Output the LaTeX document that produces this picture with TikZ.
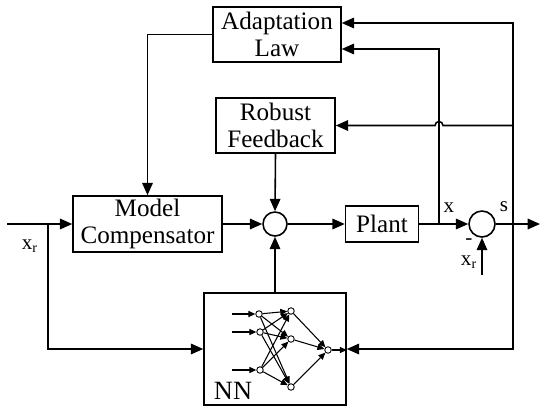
\documentclass[tikz,border=0pt]{standalone}
\usepackage{fontspec}
\setmainfont{Liberation Serif}
\usetikzlibrary{arrows.meta,calc}
\begin{document}
\begin{tikzpicture}[x=0.02cm,y=-0.02cm,
  blk/.style={draw,line width=0.9pt,align=center,inner sep=0pt,font=\fontsize{14.3}{15.5}\selectfont},
  sumc/.style={draw,circle,line width=0.9pt,inner sep=0pt},
  arr/.style={line width=0.9pt,-{Triangle[length=7pt,width=6pt]}},
  nnode/.style={draw,circle,line width=0.5pt,inner sep=0pt,minimum size=0.13cm,fill=white},
  narr/.style={line width=0.6pt,-{Triangle[length=4pt,width=3.5pt]}},
  lab/.style={font=\fontsize{12}{13}\selectfont,inner sep=0pt}]
\useasboundingbox (0,0) rectangle (550,416);
% blocks
\node[blk,minimum width=2.56cm,minimum height=1.1cm] (AL) at (277,34.5) {Adaptation\\Law};
\node[blk,minimum width=2.38cm,minimum height=1.1cm] (RF) at (275.5,125.5) {Robust\\Feedback};
\node[blk,minimum width=2.98cm,minimum height=1.12cm] (MC) at (147.5,224) {Model\\Compensator};
\node[blk,minimum width=1.46cm,minimum height=0.72cm] (PL) at (382,224) {Plant};
\node[draw,line width=0.9pt,minimum width=2.84cm,minimum height=2.24cm] (NN) at (275,349) {};
\node[sumc,minimum size=0.48cm] (S1) at (275,224) {};
\node[sumc,minimum size=0.52cm] (S2) at (482,224) {};
% coordinates
\coordinate (in) at (7,224);
\coordinate (b1) at (48,224);
\coordinate (jx) at (439,224);
\coordinate (j1) at (513,224);
\coordinate (out) at (540,224);
\coordinate (xr2) at (482,275);
% connectors
\draw[arr] (in) -- (MC.west);
\draw[arr] (b1) |- (NN.west);
\draw[arr] (AL.west) -| (MC.north);
\draw[arr] (MC.east) -- (S1.west);
\draw[arr] (RF.south) -- (S1.north);
\draw[arr] (NN.north) -- (S1.south);
\draw[arr] (S1.east) -- (PL.west);
\draw[arr] (PL.east) -- (S2.west);
\draw[arr] (S2.east) -- (out);
\draw[arr] (xr2) -- (S2.south);
\draw[arr] (jx) |- ([yshift=-0.29cm]AL.east);
\draw[arr] (j1) |- ([yshift=0.23cm]AL.east);
\draw[arr] (j1) |- (NN.east);
\draw[arr] (j1 |- RF.east) -- (443,125.5) arc[start angle=0,end angle=180,radius=0.08cm] -- (RF.east);
% labels
\node[lab] (lxr1) at (30,246) {x\textsubscript{r}};
\node[lab] (lx) at (449,208) {x};
\node[lab] (ls) at (504,207) {s};
\node[lab] (lm) at (469,242) {-};
\node[lab] (lxr2) at (469,262) {x\textsubscript{r}};
\node[font=\fontsize{15}{16}\selectfont,inner sep=0pt] (lnn) at (233,391) {NN};
% neural network
\node[nnode] (i1) at (259,314) {};
\node[nnode] (i2) at (260,332) {};
\node[nnode] (i3) at (260,370) {};
\node[nnode] (h1) at (291,311) {};
\node[nnode] (h2) at (291,339) {};
\node[nnode] (h3) at (291,387) {};
\node[nnode] (o) at (328,350) {};
\coordinate (c1) at (232,314);
\coordinate (c2) at (232,332);
\coordinate (c3) at (232,370);
\draw[narr] (c1) -- (i1);
\draw[narr] (c2) -- (i2);
\draw[narr] (c3) -- (i3);
\foreach \i in {i1,i2,i3}{\foreach \h in {h1,h2,h3}{\draw[narr] (\i) -- (\h);}}
\foreach \h in {h1,h2,h3}{\draw[narr] (\h) -- (o);}
\draw[narr] (o) -- (NN.east |- o);
\end{tikzpicture}
\end{document}
